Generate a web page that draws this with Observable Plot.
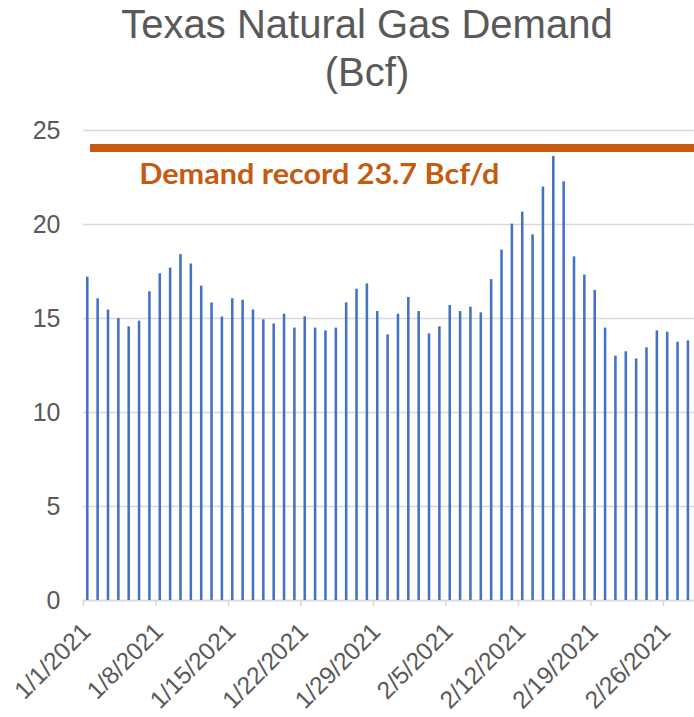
<!DOCTYPE html>
<html><head><meta charset="utf-8">
<script src="https://cdn.jsdelivr.net/npm/d3@7"></script>
<script src="https://cdn.jsdelivr.net/npm/@observablehq/plot@0.6"></script>
<style>
body{margin:0;background:#fff;width:694px;height:717px;overflow:hidden}
#title{font-family:"Liberation Sans",Arial,sans-serif;font-size:40px;line-height:48px;color:#595959;text-align:center;padding-left:40px;width:654px;height:100px;margin:0;font-weight:normal}
#chart{height:617px}
</style></head><body>
<div id="title">Texas Natural Gas Demand<br>(Bcf)</div>
<div id="chart"></div>
<script>
// Daily Texas natural gas demand, Bcf
const days = ["1/1","1/2","1/3","1/4","1/5","1/6","1/7","1/8","1/9","1/10",
  "1/11","1/12","1/13","1/14","1/15","1/16","1/17","1/18","1/19","1/20",
  "1/21","1/22","1/23","1/24","1/25","1/26","1/27","1/28","1/29","1/30","1/31",
  "2/1","2/2","2/3","2/4","2/5","2/6","2/7","2/8","2/9","2/10",
  "2/11","2/12","2/13","2/14","2/15","2/16","2/17","2/18","2/19","2/20",
  "2/21","2/22","2/23","2/24","2/25","2/26","2/27","2/28"];
const demand = [17.2,16.05,15.45,15.0,14.56,14.86,16.42,17.38,17.68,18.4,
  17.9,16.72,15.83,15.08,16.05,15.97,15.45,14.93,14.71,15.23,
  14.49,15.09,14.49,14.34,14.49,15.83,16.56,16.84,15.37,14.13,15.23,
  16.12,15.37,14.18,14.56,15.69,15.37,15.6,15.3,17.07,18.64,
  20.02,20.66,19.45,21.99,23.62,22.27,18.28,17.31,16.49,14.49,
  13.0,13.23,12.85,13.44,14.34,14.27,13.74,13.81];
const xTickDays = ["1/1","1/8","1/15","1/22","1/29","2/5","2/12","2/19","2/26"];
const xDomainDays = ["1/1","3/1"];
const yTicks = [0,5,10,15,20,25];
const recordLevel = [24.07];
const annotationLabel = ["Demand record 23.7 Bcf/d"];
const annotationDay = ["1/6"];
const annotationValue = [22.62];

const parse = s => { const [m,d] = s.split("/").map(Number); return new Date(Date.UTC(2021, m-1, d)); };
const rows = days.map((d,i) => { const t = parse(d); return {date: t, next: new Date(t.getTime() + 864e5), value: demand[i]}; });
const xTicks = xTickDays.map(parse);
const annotations = annotationLabel.map((l,i) => ({label: l, date: parse(annotationDay[i]), value: annotationValue[i]}));
const fmt = d => `${d.getUTCMonth()+1}/${d.getUTCDate()}/${d.getUTCFullYear()}`;

const chart = Plot.plot({
  width: 694, height: 617,
  marginTop: 30, marginBottom: 117, marginLeft: 83, marginRight: 0,
  style: {fontFamily: "'Liberation Sans', Arial, sans-serif", background: "#fff", overflow: "visible"},
  x: {type: "utc", domain: xDomainDays.map(parse), label: null},
  y: {domain: [0, 25], label: null},
  marks: [
    Plot.gridY(yTicks, {stroke: "#D9D9D9", strokeOpacity: 1, strokeWidth: 1.3}),
    Plot.ruleY([0], {stroke: "#D9D9D9", strokeWidth: 1.6}),
    Plot.axisX(xTicks, {tickSize: 6, tickFormat: () => "", stroke: "#D9D9D9", strokeWidth: 1.6, label: null}),
    Plot.axisX(xTicks, {tickSize: 0, tickPadding: 27, tickRotate: -45, dx: 3, fontSize: 24.5, fill: "#595959", tickFormat: fmt, label: null}),
    Plot.axisY(yTicks, {tickSize: 0, tickPadding: 23, fontSize: 25, fill: "#595959", label: null}),
    Plot.rectY(rows, {x1: "date", x2: "next", y: "value", fill: "#4472C4", insetLeft: 3, insetRight: 4.8}),
    Plot.ruleY(recordLevel, {stroke: "#C55A11", strokeWidth: 8, insetLeft: 7}),
    Plot.text(annotations, {x: "date", y: "value", text: "label", dx: 4, textAnchor: "start", fontSize: 28, fontWeight: "bold", fontFamily: "Lato, 'Open Sans', sans-serif", fill: "#C55A11", className: "record-label"})
  ]
});
document.getElementById("chart").appendChild(chart);
// stretch the annotation to the reference's text width
d3.select(chart).selectAll(".record-label text").attr("textLength", 360).attr("lengthAdjust", "spacingAndGlyphs");
</script>
</body></html>
